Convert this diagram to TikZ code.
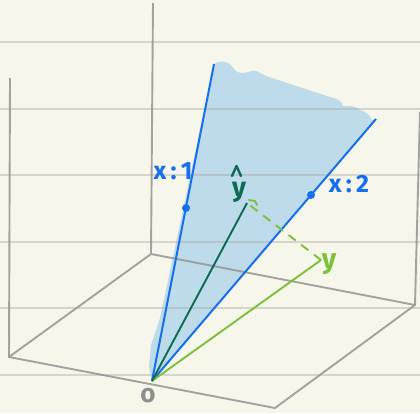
\documentclass[tikz,border=0pt]{standalone}
\usepackage{fontspec}
\newfontfamily\hand{Fira Sans}
\definecolor{bg}{HTML}{F7F6EA}
\definecolor{rulec}{HTML}{A8A8A8}
\definecolor{axisc}{HTML}{999999}
\definecolor{planec}{HTML}{BDDBEA}
\definecolor{bluec}{HTML}{1570F0}
\definecolor{dgreen}{HTML}{0C6B52}
\definecolor{lgreen}{HTML}{7CC13A}
\definecolor{oc}{HTML}{8E8E8E}
\tikzset{
  rulel/.style={draw=rulec, line width=1.6pt, opacity=0.42},
  axis/.style={draw=axisc, line width=1.9pt, opacity=0.9, line join=round},
  bvec/.style={draw=bluec, line width=2pt},
  dvec/.style={draw=dgreen, line width=1.9pt},
  gvec/.style={draw=lgreen, line width=1.9pt},
  dashg/.style={draw=lgreen, line width=1.9pt, dash pattern=on 9pt off 7pt},
  bdot/.style={circle, fill=bluec, inner sep=0pt, minimum size=8pt},
  blab/.style={text=bluec, font=\hand\bfseries\fontsize{25}{25}\selectfont, inner sep=0pt},
}
\begin{document}
\begin{tikzpicture}[x=1pt,y=-1pt]
\useasboundingbox (0,0) rectangle (420,413);
\fill[bg] (0,0) rectangle (420,413);
\clip (0,0) rectangle (420,413);
% points
\coordinate (O) at (152,381);
\coordinate (X1) at (214,64);
\coordinate (X2) at (376,119);
\coordinate (Yh) at (247,203);
\coordinate (Y) at (321,260);
% plane
\fill[planec] (O) -- (149,366) -- (151,345) -- (160,318) -- (X1)
  .. controls (218,61) and (226,60) .. (231,65)
  .. controls (234,69) and (236,73) .. (242,73)
  .. controls (248,73) and (251,70) .. (256,71)
  .. controls (262,73) and (264,76) .. (272,78)
  -- (330,97)
  .. controls (338,99) and (342,101) .. (343,106)
  .. controls (348,106) and (355,105) .. (360,110)
  .. controls (366,112) and (370,115) .. (372,120)
  -- (X2) -- cycle;
% ruled lines
\foreach \yy in {42,109,175,242,308,375} \draw[rulel] (0,\yy) -- (420,\yy);
% box axes
\coordinate (TopB) at (153,3);
\coordinate (CB) at (151,254);
\coordinate (TopL) at (10,78);
\coordinate (CL) at (9,357);
\coordinate (TopR) at (420,112);
\coordinate (CR) at (415,305);
\coordinate (CF) at (275,408);
\draw[axis] (TopB) -- (CB) -- (CR) -- (CF) -- (CL) -- (CB);
\draw[axis] (TopL) -- (CL);
\draw[axis] (TopR) -- (CR);
% vectors
\draw[bvec] (O) -- (X1);
\draw[bvec] (O) -- (X2);
\draw[gvec] (O) -- (Y);
\draw[dvec] (O) -- (Yh);
\draw[dashg] (Y) -- (Yh);
\draw[draw=lgreen, line width=1.9pt, line cap=round, line join=round] (249,200) -- (255,201) -- (257,205);
% dots
\node[bdot] (D1) at (186,208) {};
\node[bdot] (D2) at (311,195) {};
% labels
\node[blab] (L1) at (173,171) {x\,:\,1};
\node[blab] (L2) at (349,184) {x\,:\,2};
\node[text=dgreen, font=\hand\bfseries\fontsize{27}{27}\selectfont, inner sep=0pt] (LYh) at (239,192) {y};
\draw[draw=dgreen, line width=2.4pt, line cap=round, line join=round] (232,176) -- (236.5,166) -- (241,176);
\node[text=lgreen, font=\hand\bfseries\fontsize{28}{28}\selectfont, inner sep=0pt] (LY) at (329,264) {y};
\node[text=oc, font=\hand\bfseries\fontsize{26}{26}\selectfont, inner sep=0pt] (LO) at (148,396) {o};
\end{tikzpicture}
\end{document}
